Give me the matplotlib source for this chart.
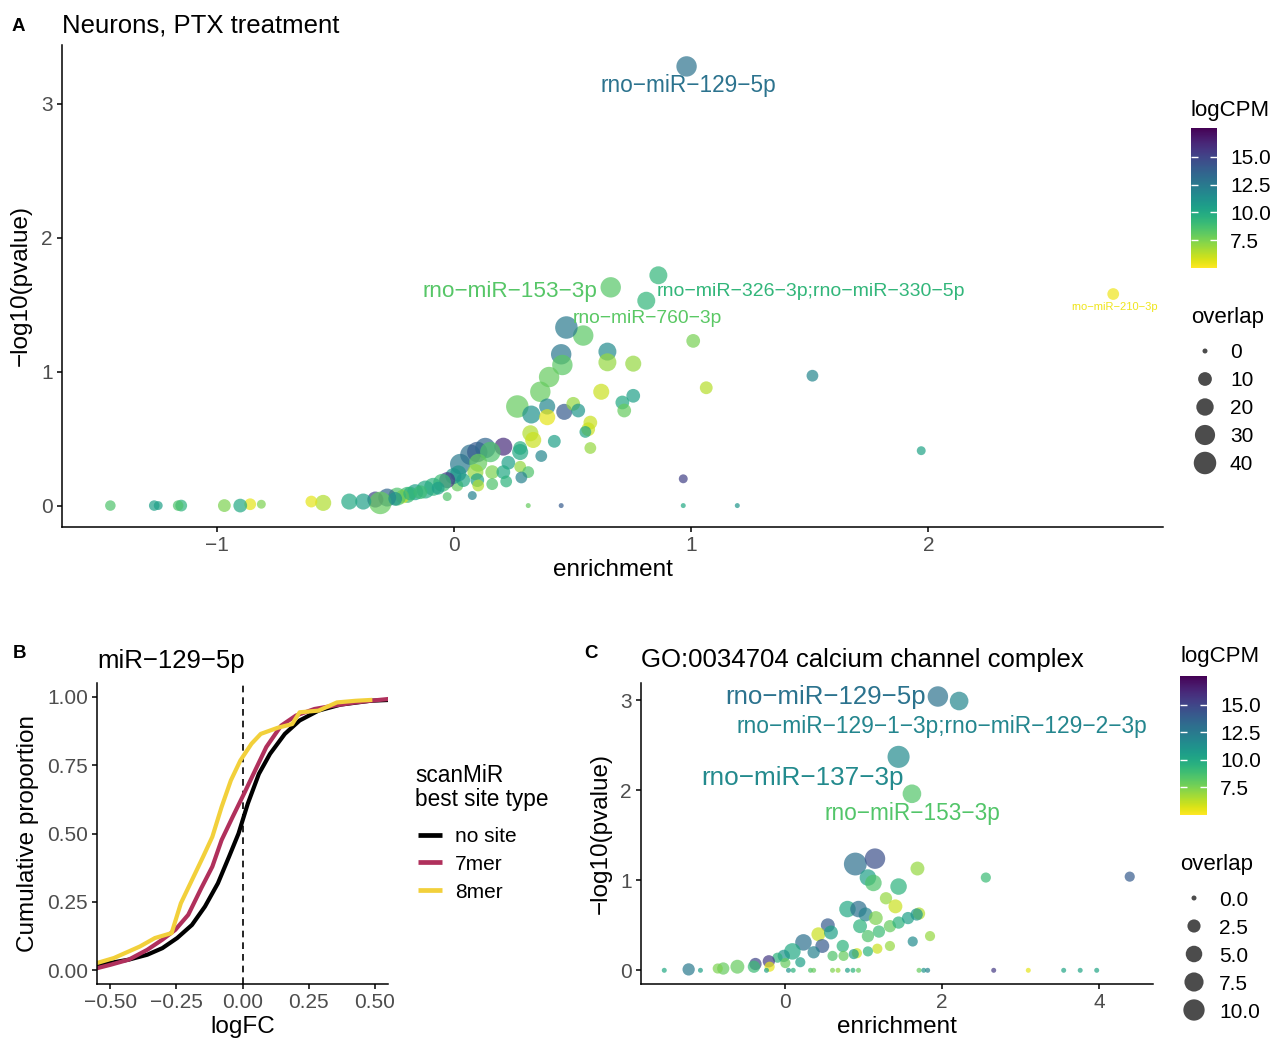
import numpy as np
import matplotlib
matplotlib.use('Agg')
import matplotlib.pyplot as plt
from matplotlib import colors, cm

plt.rcParams['font.family'] = ['Liberation Sans', 'DejaVu Sans']

MINUS = '\u2212'

# ---- panel A: neurons, PTX treatment ----
a_enrich = [0.98, 0.66, 0.81, 0.544, 2.78, 0.861, 0.473, 0.451, 0.456, 0.646,
            0.646, 0.755, 1.008, 1.063, 1.511, 1.97, 0.966, 0.966, 1.194, 0.451,
            0.312, 0.40, 0.363, 0.62, 0.266, 0.325, 0.392, 0.392, 0.464, 0.502,
            0.523, 0.709, 0.755, 0.717, 0.574, 0.565, 0.553, 0.321, 0.333, 0.422,
            0.574, 0.367, 0.278, 0.207, 0.278, 0.228, 0.278, 0.312, 0.283, 0.16,
            0.16, 0.207, 0.219, 0.025, 0.068, 0.097, 0.131, 0.152, 0.101, 0.089,
            0.097, 0.101, 0.076, -0.03, 0.013, 0.038, 0.017, -0.004, -0.03, -0.051,
            -0.089, -0.122, -0.165, -0.198, -0.219, -0.241, -0.283, -0.333, -0.312, -0.384,
            -0.443, -0.553, -0.603, -0.814, -0.861, -0.903, -0.97, -1.152, -1.165, -1.249,
            -1.266, -1.451, -0.249, -0.186, -0.143, -0.068]
a_logp = [3.28, 1.63, 1.53, 1.27, 1.58, 1.72, 1.33, 1.13, 1.05, 1.15,
          1.07, 1.06, 1.23, 0.88, 0.97, 0.41, 0.20, 0.0, 0.0, 0.0,
          0.0, 0.96, 0.85, 0.85, 0.74, 0.68, 0.74, 0.66, 0.70, 0.76,
          0.71, 0.77, 0.82, 0.71, 0.62, 0.57, 0.55, 0.54, 0.49, 0.48,
          0.43, 0.37, 0.43, 0.44, 0.40, 0.32, 0.29, 0.25, 0.21, 0.25,
          0.16, 0.25, 0.18, 0.31, 0.38, 0.40, 0.43, 0.40, 0.32, 0.25,
          0.19, 0.15, 0.075, 0.067, 0.15, 0.19, 0.24, 0.22, 0.19, 0.17,
          0.14, 0.12, 0.10, 0.08, 0.067, 0.067, 0.06, 0.045, 0.02, 0.03,
          0.03, 0.02, 0.03, 0.01, 0.01, 0.0, 0.0, 0.0, 0.0, 0.0,
          0.0, 0.0, 0.05, 0.09, 0.10, 0.13]
a_overlap = [31, 31, 22, 31, 6, 22, 40, 31, 31, 22,
             22, 16, 10, 8, 6, 2, 2, 0, 0, 0,
             0, 31, 31, 16, 40, 22, 16, 16, 16, 10,
             10, 10, 10, 10, 10, 10, 6, 16, 16, 8,
             6, 6, 10, 22, 16, 10, 6, 6, 6, 10,
             6, 10, 6, 31, 31, 31, 31, 31, 22, 16,
             10, 6, 2, 2, 6, 10, 16, 16, 16, 22,
             22, 22, 16, 16, 10, 22, 22, 16, 40, 16,
             16, 16, 6, 2, 6, 10, 8, 6, 4, 2,
             4, 4, 10, 10, 10, 8]
a_logcpm = [12.8, 8.3, 9.3, 8.2, 5.3, 9.3, 12.5, 12.6, 8.2, 11.6,
            7.0, 7.0, 7.6, 6.4, 11.8, 10.3, 15.2, 10.0, 11.0, 14.0,
            8.0, 8.0, 8.0, 6.0, 8.0, 11.2, 11.8, 5.5, 14.0, 7.0,
            11.0, 10.0, 10.5, 8.0, 6.0, 6.0, 10.2, 6.5, 6.0, 10.5,
            7.0, 11.8, 9.6, 16.0, 10.0, 10.5, 7.0, 8.5, 12.0, 7.5,
            8.5, 10.0, 9.5, 12.5, 13.0, 14.0, 13.5, 8.5, 8.0, 7.0,
            10.5, 6.5, 12.0, 8.5, 8.0, 10.0, 11.0, 11.0, 15.5, 9.0,
            9.5, 10.0, 10.5, 9.0, 6.0, 8.5, 13.5, 15.0, 8.0, 10.5,
            10.0, 6.5, 5.5, 7.5, 5.5, 10.0, 7.5, 9.5, 8.5, 10.5,
            10.5, 8.5, 11.0, 9.5, 9.0, 10.5]
a_lab_names = ['rno-miR-129-5p', 'rno-miR-153-3p', 'rno-miR-326-3p;rno-miR-330-5p',
               'rno-miR-760-3p', 'rno-miR-210-3p']
a_lab_idx = [0, 1, 2, 3, 4]
# label placement (data coords) and font size
a_lab_xy = [(0.987, 3.14), (0.236, 1.60), (1.506, 1.60), (0.814, 1.40), (2.785, 1.48)]
a_lab_size = [16.3, 16.2, 14.0, 13.9, 8.0]

# ---- panel B: cumulative distributions, miR-129-5p ----
b_nosite_fc = [-0.549, -0.5, -0.43, -0.36, -0.303, -0.247, -0.191, -0.142, -0.093, -0.051,
               -0.015, 0.02, 0.062, 0.104, 0.16, 0.216, 0.287, 0.371, 0.483, 0.553]
b_nosite_p = [0.02, 0.027, 0.039, 0.057, 0.081, 0.118, 0.166, 0.233, 0.318, 0.415,
              0.5, 0.609, 0.718, 0.791, 0.864, 0.913, 0.949, 0.971, 0.985, 0.988]
b_7mer_fc = [-0.549, -0.5, -0.43, -0.36, -0.303, -0.254, -0.205, -0.156, -0.114, -0.079,
             -0.037, 0.006, 0.048, 0.09, 0.146, 0.202, 0.272, 0.343, 0.427, 0.483, 0.546]
b_7mer_p = [0.008, 0.02, 0.039, 0.075, 0.112, 0.148, 0.203, 0.30, 0.379, 0.476,
            0.561, 0.646, 0.731, 0.816, 0.894, 0.931, 0.955, 0.967, 0.979, 0.985, 0.991]
b_8mer_fc = [-0.549, -0.486, -0.43, -0.388, -0.331, -0.268, -0.233, -0.191, -0.149, -0.114,
             -0.079, -0.044, -0.008, 0.034, 0.069, 0.132, 0.188, 0.216, 0.287, 0.357,
             0.427, 0.483]
b_8mer_p = [0.027, 0.045, 0.069, 0.087, 0.118, 0.136, 0.245, 0.33, 0.415, 0.488,
            0.597, 0.694, 0.767, 0.828, 0.864, 0.886, 0.90, 0.943, 0.949, 0.979,
            0.985, 0.988]
b_names = ['no site', '7mer', '8mer']
b_colors = ['black', '#b0305c', '#f2d03b']

# ---- panel C: GO:0034704 calcium channel complex ----
c_enrich = [1.95, 2.22, 1.45, 1.62, 4.39, 2.56, 2.66, 3.10, 3.55, 3.76,
            3.97, 0.90, 1.15, 1.06, 1.13, 1.45, 1.69, 1.29, 1.41, 0.80,
            0.94, 1.03, 1.16, 0.96, 1.06, 1.20, 1.34, 1.45, 1.57, 1.71,
            1.68, 1.85, 1.63, 1.34, 1.18, 1.06, 0.92, 0.88, 0.74, 0.75,
            0.61, 0.55, 0.43, 0.59, 0.48, 0.37, 0.24, 0.10, -0.01, -0.09,
            0.20, 0.01, -0.20, -0.19, -0.37, -0.39, -0.60, -0.78, -0.85, -1.07,
            -1.22, -1.53, -0.23, 0.05, 0.11, 0.33, 0.37, 0.61, 0.68, 0.80,
            0.87, 0.94, 1.71, 1.77, 1.82]
c_logp = [3.04, 2.99, 2.37, 1.96, 1.04, 1.03, 0.0, 0.0, 0.0, 0.0,
          0.0, 1.18, 1.24, 1.03, 0.97, 0.93, 1.13, 0.80, 0.71, 0.68,
          0.68, 0.62, 0.58, 0.49, 0.38, 0.43, 0.49, 0.53, 0.58, 0.63,
          0.62, 0.38, 0.32, 0.27, 0.24, 0.21, 0.19, 0.18, 0.27, 0.16,
          0.16, 0.50, 0.40, 0.42, 0.27, 0.20, 0.31, 0.21, 0.16, 0.14,
          0.09, 0.08, 0.10, 0.04, 0.07, 0.04, 0.04, 0.02, 0.02, 0.0,
          0.01, 0.0, 0.0, 0.0, 0.0, 0.0, 0.0, 0.0, 0.0, 0.0,
          0.0, 0.0, 0.0, 0.0, 0.0]
c_overlap = [9, 7, 11, 7, 1, 1, 0, 0, 0, 0,
             0, 12, 9, 5, 5, 5, 3, 2, 3, 5,
             5, 3, 3, 3, 2, 2, 2, 2, 2, 2,
             2, 1, 1, 1, 1, 1, 1, 1, 2, 1,
             1, 3, 3, 3, 3, 2, 5, 5, 2, 1,
             1, 1, 2, 1, 2, 2, 3, 2, 1, 0,
             2, 0, 0, 0, 0, 0, 0, 0, 0, 0,
             0, 0, 0, 0, 0]
c_logcpm = [12.8, 11.8, 11.6, 8.4, 14.0, 9.0, 15.5, 5.5, 10.2, 10.2,
            10.2, 13.0, 14.5, 10.5, 8.5, 9.5, 7.0, 7.0, 6.0, 10.0,
            13.0, 12.0, 7.5, 9.5, 8.5, 9.0, 8.0, 9.5, 10.5, 6.5,
            11.0, 7.0, 11.5, 7.0, 6.0, 9.5, 6.0, 10.5, 9.5, 8.0,
            8.5, 14.0, 6.0, 10.5, 14.0, 12.0, 13.0, 10.0, 11.0, 9.5,
            10.5, 8.0, 15.5, 5.5, 15.0, 9.0, 8.0, 8.0, 7.5, 10.5,
            12.5, 10.0, 10.5, 11.0, 9.5, 8.5, 8.0, 7.5, 7.0, 10.5,
            9.5, 8.0, 8.0, 11.0, 12.0]
c_lab_names = ['rno-miR-129-5p', 'rno-miR-129-1-3p;rno-miR-129-2-3p',
               'rno-miR-137-3p', 'rno-miR-153-3p']
c_lab_idx = [0, 1, 2, 3]
c_lab_xy = [(0.522, 3.03), (2.0, 2.71), (0.23, 2.14), (1.62, 1.74)]
c_lab_size = [18.6, 16.4, 18.8, 16.3]

W, H = 1281, 1039
cmap = plt.get_cmap('viridis_r')
norm = colors.Normalize(vmin=5.0, vmax=17.6)
TICKC = '#4d4d4d'


def px_s(d):
    # pixel diameter -> scatter area in pt^2 (dpi 100)
    return (np.asarray(d, dtype=float) * 72 / 100) ** 2


def size_a(v):
    return px_s(5 + 17.5 * np.sqrt(np.asarray(v, dtype=float) / 40))


def size_c(v):
    return px_s(5 + 16.3 * np.sqrt(np.asarray(v, dtype=float) / 10))


def style_axes(ax):
    for side in ['top', 'right']:
        ax.spines[side].set_visible(False)
    for side in ['left', 'bottom']:
        ax.spines[side].set_linewidth(1.1)
    ax.tick_params(axis='both', labelsize=15, labelcolor=TICKC, length=3.5,
                   width=1.1, pad=3)


def fr(x0, y0, x1, y1):
    # pixel box -> figure fraction rect
    return [x0 / W, 1 - y1 / H, (x1 - x0) / W, (y1 - y0) / H]


fig = plt.figure(figsize=(W / 100, H / 100), dpi=100)

# ---------- A ----------
axA = fig.add_axes(fr(62, 45, 1163, 527))
style_axes(axA)
axA.scatter(a_enrich, a_logp, s=size_a(a_overlap), c=a_logcpm, cmap=cmap,
            norm=norm, alpha=0.7, linewidths=0)
for i, name, (lx, ly), fs in zip(a_lab_idx, a_lab_names, a_lab_xy, a_lab_size):
    axA.text(lx, ly, name.replace('-', MINUS), color=cmap(norm(a_logcpm[i])),
             fontsize=fs, ha='center', va='center')
axA.set_xlim(-1.655, 2.99)
axA.set_ylim(-0.16, 3.44)
axA.set_xticks([-1, 0, 1, 2])
axA.set_xticklabels([MINUS + '1', '0', '1', '2'])
axA.set_yticks([0, 1, 2, 3])
axA.set_xlabel('enrichment', fontsize=17.5, labelpad=3)
axA.set_ylabel(MINUS + 'log10(pvalue)', fontsize=17.5, labelpad=7)
axA.set_title('Neurons, PTX treatment', loc='left', fontsize=18.5, pad=9)

# ---------- B ----------
axB = fig.add_axes(fr(97, 683, 388, 984))
style_axes(axB)
axB.axvline(0, color='black', lw=1.2, ls=(0, (4, 3)))
for fc, p, col in zip([b_nosite_fc, b_7mer_fc, b_8mer_fc],
                      [b_nosite_p, b_7mer_p, b_8mer_p], b_colors):
    axB.plot(fc, p, color=col, lw=3.0, solid_joinstyle='round')
axB.set_xlim(-0.55, 0.55)
axB.set_ylim(-0.05, 1.05)
axB.set_xticks([-0.5, -0.25, 0, 0.25, 0.5])
axB.set_xticklabels([MINUS + '0.50', MINUS + '0.25', '0.00', '0.25', '0.50'])
axB.set_yticks([0, 0.25, 0.5, 0.75, 1.0])
axB.set_yticklabels(['0.00', '0.25', '0.50', '0.75', '1.00'])
axB.set_xlabel('logFC', fontsize=17.5, labelpad=3)
axB.set_ylabel('Cumulative proportion', fontsize=17.5, labelpad=6)
axB.set_title('miR' + MINUS + '129' + MINUS + '5p', loc='left', fontsize=18.5, pad=10.8)

# ---------- C ----------
axC = fig.add_axes(fr(641, 683, 1153, 984))
style_axes(axC)
axC.scatter(c_enrich, c_logp, s=size_c(c_overlap), c=c_logcpm, cmap=cmap,
            norm=norm, alpha=0.7, linewidths=0)
for i, name, (lx, ly), fs in zip(c_lab_idx, c_lab_names, c_lab_xy, c_lab_size):
    axC.text(lx, ly, name.replace('-', MINUS), color=cmap(norm(c_logcpm[i])),
             fontsize=fs, ha='center', va='center')
axC.set_xlim(-1.826, 4.686)
axC.set_ylim(-0.152, 3.19)
axC.set_xticks([0, 2, 4])
axC.set_yticks([0, 1, 2, 3])
axC.set_xlabel('enrichment', fontsize=17.5, labelpad=3)
axC.set_ylabel(MINUS + 'log10(pvalue)', fontsize=17.5, labelpad=6)
axC.set_title('GO:0034704 calcium channel complex', loc='left', fontsize=18.5, pad=11.5)

# ---------- colourbars ----------
for box in [(1191, 128, 1217, 268), (1180, 676, 1207, 815)]:
    cax = fig.add_axes(fr(*box))
    cb = fig.colorbar(cm.ScalarMappable(norm=norm, cmap=cmap), cax=cax)
    cb.outline.set_visible(False)
    cb.set_ticks([7.5, 10, 12.5, 15])
    cb.set_ticklabels(['7.5', '10.0', '12.5', '15.0'])
    cax.yaxis.set_ticks_position('both')
    cax.tick_params(direction='in', length=5, width=1, color='white',
                    labelsize=15, labelcolor='black', pad=9.4)
    cax.tick_params(labelleft=False, labelright=True)

# ---------- overlay: tags and legends (pixel coords) ----------
ov = fig.add_axes([0, 0, 1, 1], zorder=10)
ov.set_xlim(0, W)
ov.set_ylim(H, 0)
ov.axis('off')

for tag, x, y in [('A', 12, 31), ('B', 13, 658), ('C', 584, 658)]:
    ov.text(x, y, tag, fontsize=13.5, fontweight='bold', va='baseline')

# size legends
for x0, y_title, y_cbt, xc, ys, vals, labels, fn in [
        (1191, 323, 116, 1205, [351, 379, 407, 435, 463], [0, 10, 20, 30, 40],
         ['0', '10', '20', '30', '40'], size_a),
        (1180, 870, 662, 1194, [898, 926, 954, 982, 1010], [0, 2.5, 5, 7.5, 10],
         ['0.0', '2.5', '5.0', '7.5', '10.0'], size_c)]:
    ov.text(x0, y_cbt, 'logCPM', fontsize=16, va='baseline')
    ov.text(x0, y_title, 'overlap', fontsize=16, va='baseline')
    ov.scatter([xc] * len(ys), ys, s=fn(vals), color='black', alpha=0.7, linewidths=0)
    for y, lab in zip(ys, labels):
        ov.text(xc + 25, y, lab, fontsize=15, va='center_baseline')

# site type legend
ov.text(415, 782, 'scanMiR', fontsize=16.3, va='baseline')
ov.text(415, 806, 'best site type', fontsize=16.3, va='baseline')
for y, name, col in zip([835, 862, 890], b_names, b_colors):
    ov.plot([418, 442], [y, y], color=col, lw=3.4, solid_capstyle='butt')
    ov.text(455, y, name, fontsize=15, va='center_baseline')

fig.savefig('out.png', dpi=100)
